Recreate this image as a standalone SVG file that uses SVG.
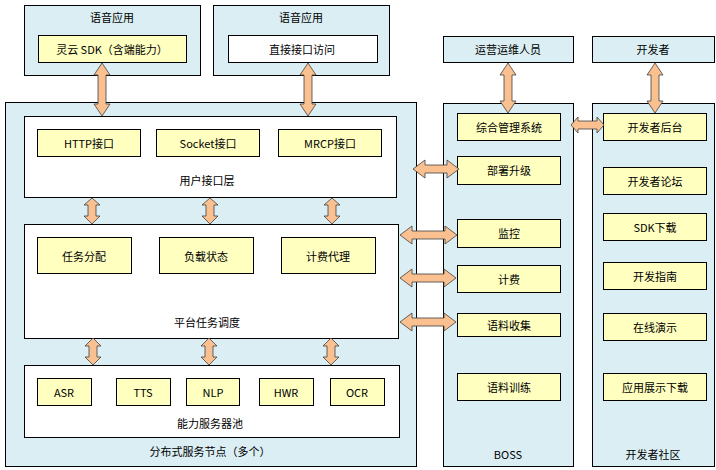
<svg xmlns="http://www.w3.org/2000/svg" width="716" height="470" viewBox="0 0 716 470">
<style>
.blue{fill:#DAEEF3;stroke:#000;stroke-width:1}
.white{fill:#FFFFFF;stroke:#000;stroke-width:1}
.yel{fill:#FFFFC0;stroke:#000;stroke-width:1}
.arr{fill:#FAC090;stroke:#404040;stroke-width:0.8}
text{font-family:"Noto Sans CJK SC","Liberation Sans",sans-serif;font-size:11px;fill:#000;text-anchor:middle;dominant-baseline:central}
</style>
<rect width="716" height="470" fill="#FFFFFF"/>
<g id="app-sdk">
<rect class="blue" x="24.5" y="5.5" width="176" height="70"/>
<text x="112" y="17">语音应用</text>
<rect class="yel" x="38.5" y="35.5" width="148" height="27"/>
<text x="112" y="49">灵云 SDK（含端能力）</text>
</g>
<g id="app-direct">
<rect class="blue" x="213.5" y="5.5" width="176" height="70"/>
<text x="301" y="17">语音应用</text>
<rect class="white" x="228.5" y="35.5" width="149" height="27"/>
<text x="302" y="49">直接接口访问</text>
</g>
<g id="ops">
<rect class="blue" x="443.5" y="36.5" width="130" height="26"/>
<text x="508" y="49">运营运维人员</text>
</g>
<g id="dev">
<rect class="blue" x="592.5" y="36.5" width="122" height="26"/>
<text x="653" y="49">开发者</text>
</g>
<g id="node">
<rect class="blue" x="5.5" y="102.5" width="411" height="364"/>
<text x="210" y="451">分布式服务节点（多个）</text>
</g>
<g id="ui-layer">
<rect class="white" x="24.5" y="116.5" width="372" height="81"/>
<rect class="yel" x="37.5" y="129.5" width="103" height="27"/>
<text x="89" y="143">HTTP接口</text>
<rect class="yel" x="156.5" y="129.5" width="103" height="27"/>
<text x="208" y="143">Socket接口</text>
<rect class="yel" x="278.5" y="129.5" width="103" height="27"/>
<text x="330" y="143">MRCP接口</text>
<text x="207" y="180">用户接口层</text>
</g>
<g id="platform">
<rect class="white" x="24.5" y="224.5" width="374" height="114"/>
<rect class="yel" x="37.5" y="237.5" width="94" height="36"/>
<text x="84" y="256">任务分配</text>
<rect class="yel" x="159.5" y="237.5" width="94" height="36"/>
<text x="206" y="256">负载状态</text>
<rect class="yel" x="281.5" y="237.5" width="94" height="36"/>
<text x="328" y="256">计费代理</text>
<text x="207" y="322">平台任务调度</text>
</g>
<g id="pool">
<rect class="white" x="24.5" y="365.5" width="375" height="72"/>
<rect class="yel" x="37.5" y="378.5" width="54" height="27"/>
<text x="64" y="392">ASR</text>
<rect class="yel" x="116.5" y="378.5" width="54" height="27"/>
<text x="143" y="392">TTS</text>
<rect class="yel" x="186.5" y="378.5" width="53" height="27"/>
<text x="213" y="392">NLP</text>
<rect class="yel" x="259.5" y="378.5" width="54" height="27"/>
<text x="286" y="392">HWR</text>
<rect class="yel" x="330.5" y="378.5" width="54" height="27"/>
<text x="357" y="392">OCR</text>
<text x="210" y="423">能力服务器池</text>
</g>
<g id="boss">
<rect class="blue" x="443.5" y="103.5" width="130" height="363"/>
<text x="508" y="454">BOSS</text>
<rect class="yel" x="457.5" y="113.5" width="103" height="27"/>
<text x="509" y="127">综合管理系统</text>
<rect class="yel" x="457.5" y="156.5" width="103" height="28"/>
<text x="509" y="170">部署升级</text>
<rect class="yel" x="457.5" y="219.5" width="103" height="28"/>
<text x="509" y="233">监控</text>
<rect class="yel" x="457.5" y="265.5" width="103" height="27"/>
<text x="509" y="279">计费</text>
<rect class="yel" x="457.5" y="313.5" width="103" height="23"/>
<text x="509" y="325">语料收集</text>
<rect class="yel" x="457.5" y="373.5" width="103" height="27"/>
<text x="509" y="387">语料训练</text>
</g>
<g id="community">
<rect class="blue" x="592.5" y="103.5" width="122" height="363"/>
<text x="653" y="454">开发者社区</text>
<rect class="yel" x="603.5" y="113.5" width="103" height="27"/>
<text x="655" y="127">开发者后台</text>
<rect class="yel" x="603.5" y="167.5" width="103" height="27"/>
<text x="655" y="181">开发者论坛</text>
<rect class="yel" x="603.5" y="213.5" width="103" height="27"/>
<text x="655" y="227">SDK下载</text>
<rect class="yel" x="603.5" y="262.5" width="103" height="27"/>
<text x="655" y="276">开发指南</text>
<rect class="yel" x="603.5" y="313.5" width="103" height="27"/>
<text x="655" y="327">在线演示</text>
<rect class="yel" x="603.5" y="373.5" width="103" height="27"/>
<text x="655" y="387">应用展示下载</text>
</g>
<g id="connectors">
<path class="arr" d="M102,63 L110,75 L106,75 L106,104 L110,104 L102,116 L94,104 L98,104 L98,75 L94,75 Z"/>
<path class="arr" d="M308,63 L316,75 L312,75 L312,104 L316,104 L308,116 L300,104 L304,104 L304,75 L300,75 Z"/>
<path class="arr" d="M92,198 L100,205 L96,205 L96,216 L100,216 L92,224 L84,216 L88,216 L88,205 L84,205 Z"/>
<path class="arr" d="M210,198 L218,205 L214,205 L214,216 L218,216 L210,224 L202,216 L206,216 L206,205 L202,205 Z"/>
<path class="arr" d="M332,198 L340,205 L336,205 L336,216 L340,216 L332,224 L324,216 L328,216 L328,205 L324,205 Z"/>
<path class="arr" d="M93,338 L101,346 L97,346 L97,357 L101,357 L93,365 L85,357 L89,357 L89,346 L85,346 Z"/>
<path class="arr" d="M209,338 L217,346 L213,346 L213,357 L217,357 L209,365 L201,357 L205,357 L205,346 L201,346 Z"/>
<path class="arr" d="M331,338 L339,346 L335,346 L335,357 L339,357 L331,365 L323,357 L327,357 L327,346 L323,346 Z"/>
<path class="arr" d="M508,63 L516,75 L512,75 L512,101 L516,101 L508,113 L500,101 L504,101 L504,75 L500,75 Z"/>
<path class="arr" d="M655,63 L663,75 L659,75 L659,101 L663,101 L655,113 L647,101 L651,101 L651,75 L647,75 Z"/>
<path class="arr" d="M413,169 L425,160 L425,165 L447,165 L447,160 L459,169 L447,178 L447,173 L425,173 L425,178 Z"/>
<path class="arr" d="M400,235 L412,226 L412,231 L445,231 L445,226 L457,235 L445,244 L445,239 L412,239 L412,244 Z"/>
<path class="arr" d="M400,278 L412,269 L412,274 L444,274 L444,269 L456,278 L444,287 L444,282 L412,282 L412,287 Z"/>
<path class="arr" d="M400,322 L412,313 L412,318 L444,318 L444,313 L456,322 L444,331 L444,326 L412,326 L412,331 Z"/>
<path class="arr" d="M571,125 L578,117 L578,121 L597,121 L597,117 L604,125 L597,133 L597,129 L578,129 L578,133 Z"/>
</g>
</svg>
